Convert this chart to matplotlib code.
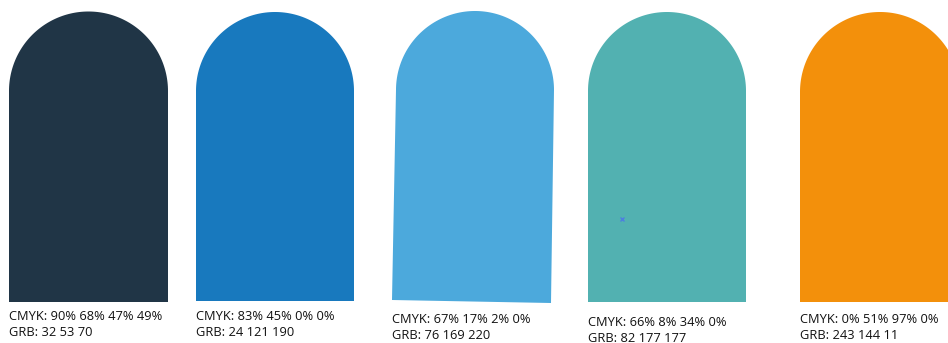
import numpy as np
import matplotlib
matplotlib.use("Agg")
import matplotlib.pyplot as plt
from matplotlib.patches import Polygon

# swatch data
cmyk = ["90% 68% 47% 49%", "83% 45% 0% 0%", "67% 17% 2% 0%", "66% 8% 34% 0%", "0% 51% 97% 0%"]
rgb = [(32, 53, 70), (24, 121, 190), (76, 169, 220), (82, 177, 177), (243, 144, 11)]

# geometry in pixels (x, y from top)
arch_left = [9, 196, 396, 588, 800]
arch_right = [168, 354, 554, 746, 960]
arch_base = [91, 91, 90, 91, 92]
bottom_left = [9, 196, 392, 588, 800]
bottom_right = [168, 354, 551, 746, 960]
bottom_y_left = [302, 301, 300, 302, 302]
bottom_y_right = [302, 301, 303, 302, 302]
text_x = [9, 196, 392, 588, 800]
text_y = [320, 320, 323, 326, 323]

fig = plt.figure(figsize=(9.48, 3.43), dpi=100)
ax = fig.add_axes([0, 0, 1, 1])
ax.set_xlim(0, 948)
ax.set_ylim(343, 0)
ax.axis("off")

t = np.linspace(np.pi, 0, 120)
for i in range(len(rgb)):
    color = tuple(c / 255 for c in rgb[i])
    cx = (arch_left[i] + arch_right[i]) / 2
    r = (arch_right[i] - arch_left[i]) / 2
    arc = np.column_stack([cx + r * np.cos(t), arch_base[i] - r * np.sin(t)])
    pts = np.vstack([
        [[bottom_left[i], bottom_y_left[i]]],
        arc,
        [[bottom_right[i], bottom_y_right[i]]],
    ])
    ax.add_patch(Polygon(pts, closed=True, facecolor=color, edgecolor="none"))

    ax.text(text_x[i], text_y[i], "CMYK: " + cmyk[i], fontsize=9.3,
            family="Open Sans", va="baseline", ha="left", color="#111111")
    ax.text(text_x[i], text_y[i] + 16, "GRB: " + " ".join(str(v) for v in rgb[i]),
            fontsize=9.3, family="Open Sans", va="baseline", ha="left", color="#111111")

# small cross marker on the teal swatch
ax.plot([622], [219], marker="x", markersize=3.5, color="#4d7fe0", mew=1)

fig.savefig("out.png", dpi=100)
